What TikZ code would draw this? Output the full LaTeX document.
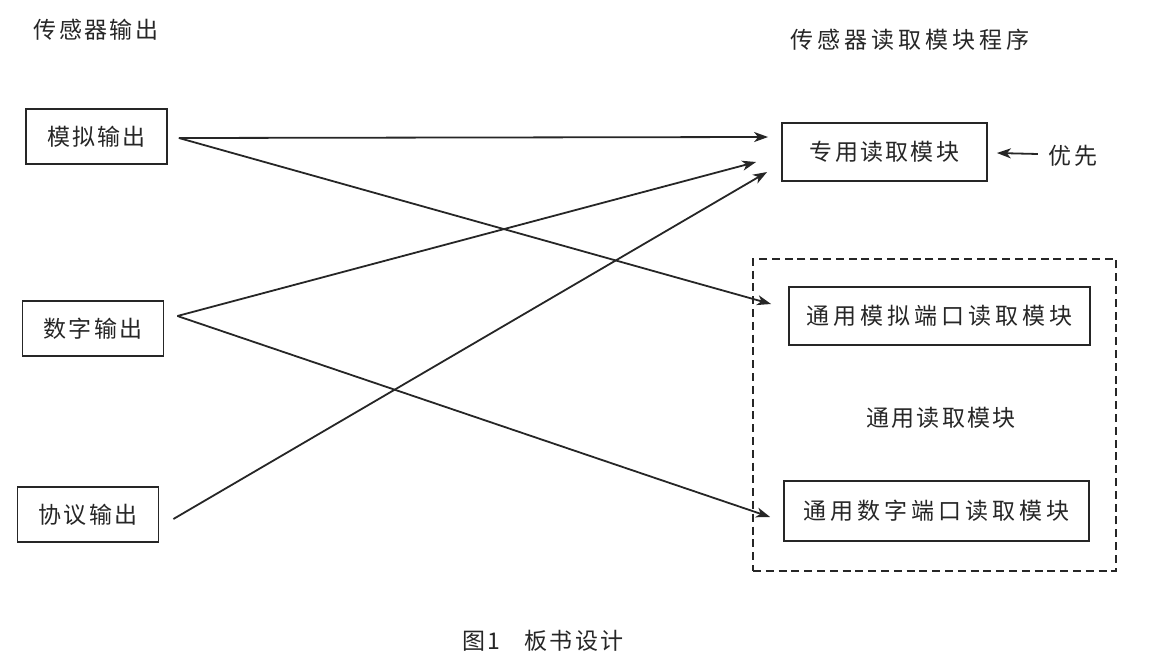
\documentclass[tikz,border=0pt]{standalone}
\usepackage{fontspec}
\usepackage{tikz}
\usetikzlibrary{positioning,arrows.meta,calc}
\newfontfamily\cjk[LetterSpace=10]{Noto Sans CJK SC}
\newfontfamily\cjkw[LetterSpace=17]{Noto Sans CJK SC}

\begin{document}
\begin{tikzpicture}[
  x=0.5pt,y=-0.5pt,
  font=\cjk\fontsize{11.5pt}{13pt}\selectfont,
  wide/.style={font=\cjkw\fontsize{11.5pt}{13pt}\selectfont},
  every node/.style={text=black!85},
  box/.style={draw=black!85,line width=0.9pt,inner sep=0pt,align=center},
  src/.style={box,minimum width=70.5pt,minimum height=27.5pt},
  arr/.style={-{Stealth[length=7pt,width=5pt,inset=2pt]},line width=0.9pt,draw=black!85},
  grp/.style={draw=black!85,line width=0.8pt,dash pattern=on 4pt off 2.4pt}]
  \useasboundingbox (0,0) rectangle (1167,664);
  % headings
  \node (tin) at (96,30) {传感器输出};
  \node[wide] (tout) at (910,40) {传感器读取模块程序};
  % sensor outputs
  \node[src] (ana) at (96.5,136.5) {模拟输出};
  \node[src] (dig) at (93,328.5) {数字输出};
  \node[src] (pro) at (88,514.5) {协议输出};
  % reader modules
  \node[box,minimum width=102.5pt,minimum height=29pt] (spec) at (884.5,152) {专用读取模块};
  \node (prio) at (1073,156) {优先};
  \node[grp,minimum width=181.5pt,minimum height=156pt] (gen) at (934.5,415) {};
  \node[box,wide,minimum width=150.5pt,minimum height=29pt] (gana) at (939.5,316) {通用模拟端口读取模块};
  \node (glab) at (941,418) {通用读取模块};
  \node[box,wide,minimum width=152.5pt,minimum height=30pt] (gdig) at (936.5,511) {通用数字端口读取模块};
  % arrows
  \draw[arr] ($(ana.east)+(11,1.5)$) -- ($(spec.west)+(-13,-15)$);
  \draw[arr] ($(ana.east)+(11,1.5)$) -- ($(gana.west)+(-17,-12)$);
  \draw[arr] ($(dig.east)+(13,-12.5)$) -- ($(spec.west)+(-25,10)$);
  \draw[arr] ($(dig.east)+(13,-12.5)$) -- ($(gdig.west)+(-13,6)$);
  \draw[arr] ($(pro.east)+(14,4.5)$) -- ($(spec.west)+(-14,20)$);
  \draw[arr] ($(prio.west)+(-4,-2)$) -- ($(spec.east)+(9,1)$);
  % caption
  \node (cap) at (543,641) {图1\hspace{12pt}板书设计};
\end{tikzpicture}
\end{document}
